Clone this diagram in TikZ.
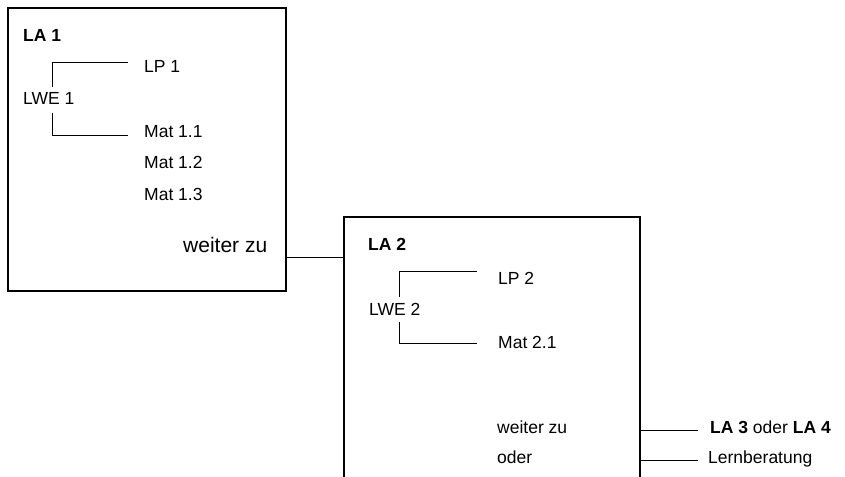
\documentclass[tikz,border=0pt]{standalone}
\usepackage{fontspec}
\setmainfont{Liberation Sans}
\begin{document}
\begin{tikzpicture}[x=1pt,y=-1pt,
  txt/.style={anchor=base west,inner sep=0pt,font=\fontsize{17.5}{20}\selectfont},
  big/.style={anchor=base west,inner sep=0pt,font=\fontsize{21}{24}\selectfont},
  frame/.style={draw=black,line width=1.6pt,inner sep=0pt,anchor=north west},
  conn/.style={draw=black,line width=1pt}]
\useasboundingbox (0,0) rectangle (845,476);
% boxes
\node[frame,minimum width=278pt,minimum height=283pt] (box1) at (7,7) {};
\node[frame,minimum width=296pt,minimum height=300pt] (box2) at (343,216) {};
% box 1 texts
\node[txt] (la1) at (23,42) {\textbf{LA 1}};
\node[txt] (lp1) at (144,73) {LP 1};
\node[txt] (lwe1) at (23,105) {LWE 1};
\node[txt] (m11) at (144,137) {Mat 1.1};
\node[txt] (m12) at (144,168) {Mat 1.2};
\node[txt] (m13) at (144,200) {Mat 1.3};
\node[big] (wz1) at (183,252) {weiter zu};
% box 2 texts
\node[txt] (la2) at (368,250) {\textbf{LA 2}};
\node[txt] (lp2) at (498,284) {LP 2};
\node[txt] (lwe2) at (369,315) {LWE 2};
\node[txt] (m21) at (498,348) {Mat 2.1};
\node[txt] (wz2) at (497,433) {weiter zu};
\node[txt] (od2) at (497,463) {oder};
\node[txt] (la34) at (710,433) {\textbf{LA 3} oder \textbf{LA 4}};
\node[txt] (lb) at (708,463) {Lernberatung};
% bracket coordinates
\coordinate (b1t) at (52,87);
\coordinate (b1b) at (52,113);
\coordinate (b2t) at (399,297);
\coordinate (b2b) at (399,322);
\coordinate (e1t) at (128,63);
\coordinate (e1b) at (128,135);
\coordinate (e2t) at (477,271);
\coordinate (e2b) at (477,343);
\coordinate (c3) at (698,430);
\coordinate (c4) at (698,460);
% brackets
\draw[conn] (b1t) |- (e1t);
\draw[conn] (b1b) |- (e1b);
\draw[conn] (b2t) |- (e2t);
\draw[conn] (b2b) |- (e2b);
% connectors
\draw[conn] (box1.east |- 0,257) -- (box2.west |- 0,257);
\draw[conn] (box2.east |- c3) -- (c3);
\draw[conn] (box2.east |- c4) -- (c4);
\end{tikzpicture}
\end{document}
